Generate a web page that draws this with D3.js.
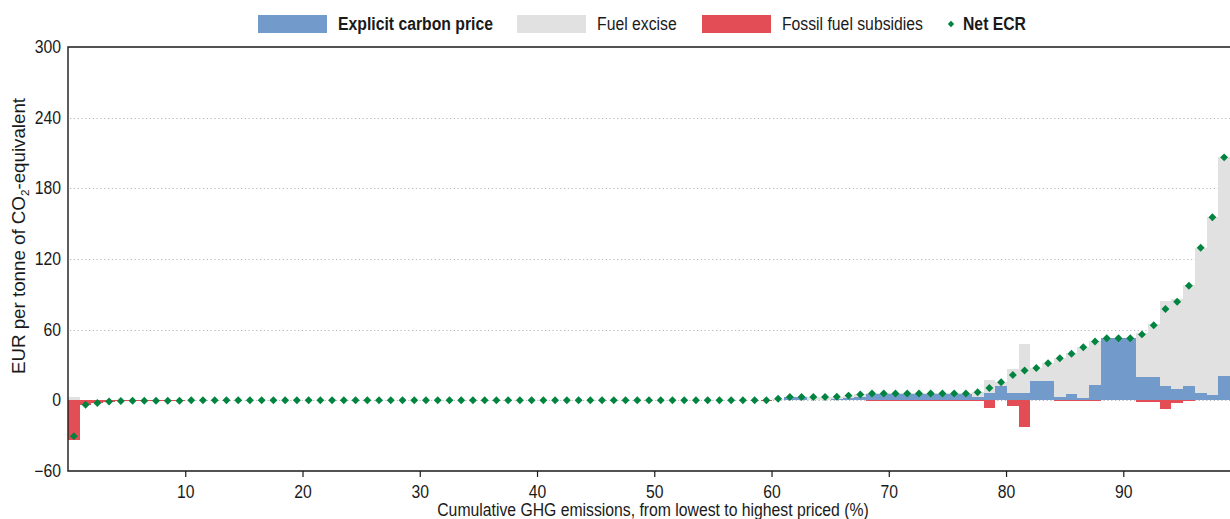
<!DOCTYPE html>
<html>
<head>
<meta charset="utf-8">
<script src="https://cdn.jsdelivr.net/npm/d3@7"></script>
<style>
  body { margin: 0; background: #fff; }
  svg text { font-family: "Liberation Sans", Arial, sans-serif; fill: #1a1a1a; }
</style>
</head>
<body>
<svg id="chart" width="1230" height="519"></svg>
<script>
// Effective carbon rates by emission percentile (EUR per tonne CO2e), 99 equal-emission bins,
// ordered from lowest to highest priced.
const explicitPrice = [
  0, 0, 0, 0, 0, 0, 0, 0, 0, 0,
  0, 0, 0, 0, 0, 0, 0, 0, 0, 0,
  0, 0, 0, 0, 0, 0, 0, 0, 0, 0,
  0, 0, 0, 0, 0, 0, 0, 0, 0, 0,
  0, 0, 0, 0, 0, 0, 0, 0, 0, 0,
  0, 0, 0, 0, 0, 0, 0, 0, 0, 0,
  0, 2.6, 2.6, 0.4, 0.4, 0.8, 2.0, 2.5, 5.8, 5.8,
  5.8, 5.8, 5.8, 5.8, 5.8, 5.8, 5.8, 2.5, 5.9, 12.2,
  5.9, 5.9, 16.5, 16.5, 2.8, 5.4, 2.3, 13.0, 52.7, 52.7,
  52.7, 19.8, 19.8, 12.2, 9.6, 12.2, 6.2, 4.5, 20.7
];
const fuelExcise = [
  3.2, 0.3, 0.2, 0.2, 0, 0, 0, 0, 0, 0,
  0, 0, 0, 0, 0, 0, 0, 0, 0, 0,
  0, 0, 0, 0, 0, 0, 0, 0, 0, 0,
  0, 0, 0, 0, 0, 0, 0, 0, 0, 0,
  0, 0, 0, 0, 0, 0, 0, 0, 0, 0,
  0, 0, 0, 0, 0, 0, 0, 0, 0, 0.3,
  1.3, 0.2, 0.2, 2.4, 2.4, 2.2, 2.0, 2.5, 0.3, 0.3,
  0.3, 0.3, 0.3, 0.3, 0.3, 0.3, 0.3, 4.6, 11.1, 3.1,
  20.4, 42.0, 11.0, 15.0, 33.4, 34.7, 43.2, 37.4, 0, 0,
  0, 37.3, 45.0, 72.4, 76.1, 85.6, 123.4, 150.9, 185.6
];
const fossilSubsidies = [
  -33.6, -4.0, -2.5, -1.2, -0.5, -0.3, -0.3, -0.3, -0.3, -0.3,
  0, 0, 0, 0, 0, 0, 0, 0, 0, 0,
  0, 0, 0, 0, 0, 0, 0, 0, 0, 0,
  0, 0, 0, 0, 0, 0, 0, 0, 0, 0,
  0, 0, 0, 0, 0, 0, 0, 0, 0, 0,
  0, 0, 0, 0, 0, 0, 0, 0, 0, -0.3,
  0, 0, 0, 0, 0, 0, 0, 0, -0.3, -0.3,
  -0.3, -0.3, -0.3, -0.3, -0.3, -0.3, -0.3, -0.3, -6.5, 0,
  -4.8, -22.6, 0, 0, -0.5, -0.5, -0.5, -0.5, 0, 0,
  0, -1.1, -1.1, -7.1, -2.0, -0.5, 0, 0, 0
];
const netECR = [
  -30.4, -3.7, -2.3, -1.0, -0.5, -0.3, -0.3, -0.3, -0.3, -0.3,
  0, 0, 0, 0, 0, 0, 0, 0, 0, 0,
  0, 0, 0, 0, 0, 0, 0, 0, 0, 0,
  0, 0, 0, 0, 0, 0, 0, 0, 0, 0,
  0, 0, 0, 0, 0, 0, 0, 0, 0, 0,
  0, 0, 0, 0, 0, 0, 0, 0, 0, 0,
  1.3, 2.8, 2.8, 2.8, 2.8, 3.0, 4.0, 5.0, 5.8, 5.8,
  5.8, 5.8, 5.8, 5.8, 5.8, 5.8, 5.8, 6.8, 10.5, 15.3,
  21.5, 25.3, 27.5, 31.5, 35.7, 39.6, 45.0, 49.9, 52.7, 52.7,
  52.7, 56.0, 63.7, 77.5, 83.7, 97.3, 129.6, 155.4, 206.3
];
const yTicks = [-60, 0, 60, 120, 180, 240, 300];
const xTicks = [10, 20, 30, 40, 50, 60, 70, 80, 90];
const coveredShare = 99.1; // cumulative emissions covered by the bins (%)

const colors = { explicit: "#729bcc", excise: "#e1e1e1", subsidy: "#e34e56", net: "#00843f", axis: "#1a1a1a", grid: "#b5b5b5" };
const fontSize = 17.5;
const narrow = 0.9; // horizontal condensing applied to labels

const svg = d3.select("#chart");
const plot = { left: 68, right: 1230, top: 47, bottom: 471 };

const x = d3.scaleLinear().domain([0, coveredShare]).range([plot.left, plot.right]);
const y = d3.scaleLinear().domain([-60, 300]).range([plot.bottom, plot.top]);

const n = netECR.length;
const binW = coveredShare / n;
const bins = d3.range(n).map(i => ({
  x0: i * binW, x1: (i + 1) * binW, xm: (i + 0.5) * binW,
  explicit: explicitPrice[i], excise: fuelExcise[i], subsidy: fossilSubsidies[i], net: netECR[i]
}));

// dotted gridlines (0 .. 240)
svg.append("g").selectAll("line")
  .data(yTicks.filter(t => t > -60 && t < 300))
  .join("line")
  .attr("x1", plot.left + 2).attr("x2", plot.right)
  .attr("y1", d => Math.round(y(d)) + 0.5).attr("y2", d => Math.round(y(d)) + 0.5)
  .attr("stroke", colors.grid).attr("stroke-width", 1).attr("stroke-dasharray", "1.2,2.6");

// stacked bars
const bars = svg.append("g").attr("shape-rendering", "crispEdges");
bars.selectAll("rect.explicit").data(bins.filter(d => d.explicit > 0)).join("rect")
  .attr("class", "explicit")
  .attr("x", d => x(d.x0)).attr("width", d => x(d.x1) - x(d.x0))
  .attr("y", d => y(d.explicit)).attr("height", d => y(0) - y(d.explicit))
  .attr("fill", colors.explicit);
bars.selectAll("rect.excise").data(bins.filter(d => d.excise > 0)).join("rect")
  .attr("class", "excise")
  .attr("x", d => x(d.x0)).attr("width", d => x(d.x1) - x(d.x0))
  .attr("y", d => y(d.explicit + d.excise)).attr("height", d => y(d.explicit) - y(d.explicit + d.excise))
  .attr("fill", colors.excise);
bars.selectAll("rect.subsidy").data(bins.filter(d => d.subsidy < 0)).join("rect")
  .attr("class", "subsidy")
  .attr("x", d => x(d.x0)).attr("width", d => x(d.x1) - x(d.x0))
  .attr("y", y(0)).attr("height", d => Math.max(1, y(d.subsidy) - y(0)))
  .attr("fill", colors.subsidy);

// frame: left axis, top rule, bottom axis
const frame = svg.append("g").attr("stroke", colors.axis).attr("stroke-width", 1.4).attr("fill", "none");
frame.append("path").attr("d", `M${plot.right},${plot.top}H${plot.left}V${plot.bottom}H${plot.right}`);

// x axis ticks and labels
const xAxis = d3.axisBottom(x).tickValues(xTicks).tickSize(6).tickPadding(9).tickFormat(d3.format("d"));
const gx = svg.append("g").attr("transform", `translate(0,${plot.bottom})`).call(xAxis);
gx.select(".domain").remove();
gx.selectAll(".tick line").attr("stroke", colors.axis).attr("stroke-width", 1.2);
gx.selectAll(".tick text").attr("font-size", fontSize).style("fill", colors.axis);

// y axis labels
const yAxis = d3.axisLeft(y).tickValues(yTicks).tickSize(0).tickPadding(7);
const gy = svg.append("g").attr("transform", `translate(${plot.left},0)`).call(yAxis);
gy.select(".domain").remove();
gy.selectAll(".tick text").attr("font-size", fontSize).style("fill", colors.axis);

// axis titles
svg.append("text")
  .attr("x", 653).attr("y", 516)
  .attr("text-anchor", "middle").attr("font-size", fontSize)
  .text("Cumulative GHG emissions, from lowest to highest priced (%)");

const yTitle = svg.append("text")
  .attr("class", "y-title")
  .attr("transform", `translate(25,236) rotate(-90)`)
  .attr("text-anchor", "middle").attr("font-size", fontSize);
yTitle.append("tspan").text("EUR per tonne of CO");
yTitle.append("tspan").attr("font-size", 11).attr("dy", 4).text("2");
yTitle.append("tspan").attr("dy", -4).text("-equivalent");

// net ECR diamonds
svg.append("g").selectAll("path").data(bins).join("path")
  .attr("transform", d => `translate(${x(d.xm)},${y(d.net)})`)
  .attr("d", d3.symbol(d3.symbolDiamond2, 40)())
  .attr("fill", colors.net);

// legend
const legend = svg.append("g").attr("transform", "translate(0,24)");
const legendItems = [
  { label: "Explicit carbon price", color: colors.explicit, swatchX: 258, bold: true },
  { label: "Fuel excise", color: colors.excise, swatchX: 517, bold: false },
  { label: "Fossil fuel subsidies", color: colors.subsidy, swatchX: 702, bold: false }
];
legendItems.forEach(it => {
  legend.append("rect").attr("x", it.swatchX).attr("y", -9).attr("width", 69).attr("height", 18).attr("fill", it.color);
  legend.append("text").attr("x", it.swatchX + 80).attr("y", 0).attr("dy", "0.35em")
    .attr("font-size", fontSize).attr("font-weight", it.bold ? "bold" : "normal").text(it.label);
});
legend.append("path").attr("transform", "translate(951,0)")
  .attr("d", d3.symbol(d3.symbolDiamond2, 26)()).attr("fill", colors.net);
legend.append("text").attr("x", 963).attr("y", 0).attr("dy", "0.35em")
  .attr("font-size", fontSize).attr("font-weight", "bold").text("Net ECR");

// condense labels horizontally; the rotated title keeps its full run length
svg.selectAll("text").each(function () {
  const w = this.getComputedTextLength();
  const k = this.classList.contains("y-title") ? 1.07 : narrow;
  this.setAttribute("textLength", (w * k).toFixed(1));
  this.setAttribute("lengthAdjust", "spacingAndGlyphs");
});
</script>
</body>
</html>
